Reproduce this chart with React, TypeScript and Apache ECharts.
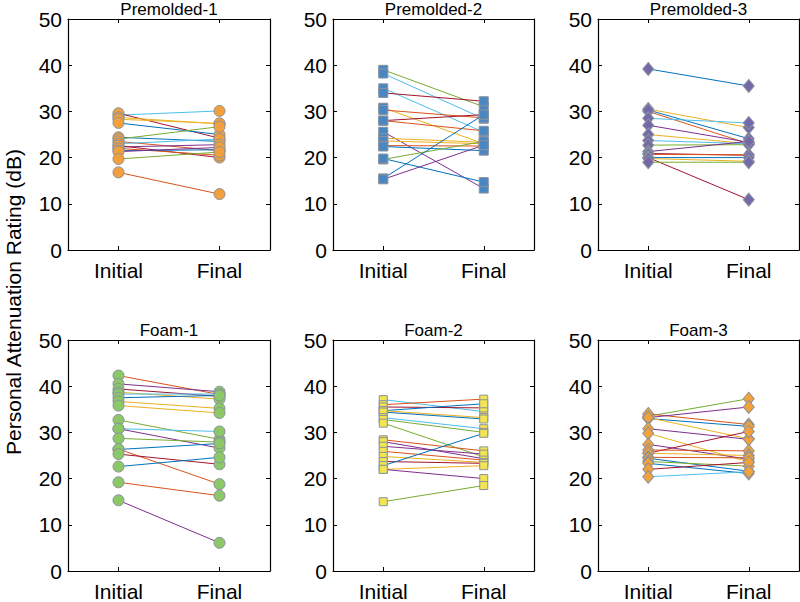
import React, { useEffect, useRef } from "react";
import * as echarts from "echarts";

const categories = ["Initial", "Final"];
const panelTitles = ["Premolded-1", "Premolded-2", "Premolded-3", "Foam-1", "Foam-2", "Foam-3"];
const yAxisTitle = "Personal Attenuation Rating (dB)";

// MATLAB default line colour order
const lineColors = ["#0072BD", "#D95319", "#EDB120", "#7E2F8E", "#77AC30", "#4DBEEE", "#A2142F"];

const premolded1Initial = [29.2, 29.6, 28.7, 28.3, 27.5, 24.4, 24.0, 23.5, 23.0, 22.3, 22.6, 22.0, 21.5, 21.3, 19.7, 16.8];
const premolded1Final = [30.1, 24.2, 27.3, 27.4, 25.0, 23.5, 26.7, 21.5, 24.0, 22.8, 20.0, 20.5, 21.7, 22.2, 21.2, 12.1];
const premolded1Colors = [5, 6, 2, 2, 0, 0, 4, 1, 5, 3, 6, 1, 0, 3, 4, 1];

const premolded2Initial = [39.0, 38.2, 35.0, 34.0, 30.8, 30.3, 28.0, 28.0, 25.6, 24.2, 23.6, 22.6, 22.4, 19.6, 19.8, 15.5, 15.3];
const premolded2Final = [31.0, 28.4, 25.5, 32.2, 23.0, 28.6, 29.3, 25.8, 13.3, 23.3, 23.0, 22.5, 21.5, 23.5, 14.7, 29.3, 22.7];
const premolded2Colors = [4, 5, 5, 6, 2, 1, 6, 1, 3, 2, 2, 1, 0, 4, 0, 0, 3];

const premolded3Initial = [39.2, 30.5, 30.0, 30.3, 28.5, 27.0, 25.0, 23.7, 22.7, 21.3, 20.9, 20.7, 20.0, 20.0, 19.8, 19.0];
const premolded3Final = [35.5, 26.5, 23.0, 24.1, 27.5, 23.3, 23.0, 23.0, 22.8, 23.5, 20.5, 20.6, 20.0, 10.9, 19.2, 19.0];
const premolded3Colors = [0, 2, 1, 0, 5, 3, 2, 5, 4, 3, 6, 1, 0, 6, 2, 4];

const foam1Initial = [42.3, 40.5, 39.4, 38.7, 38.3, 37.5, 36.7, 35.8, 32.7, 30.8, 30.8, 28.7, 26.3, 26.4, 25.3, 22.6, 19.2, 15.3];
const foam1Final = [38.2, 38.8, 37.8, 37.2, 38.3, 38.0, 35.2, 34.2, 28.5, 30.2, 26.6, 27.9, 27.6, 18.8, 23.1, 24.6, 16.3, 6.1];
const foam1Colors = [1, 3, 6, 2, 5, 0, 2, 2, 4, 5, 3, 4, 0, 1, 6, 0, 1, 3];

const foam2Initial = [37.1, 36.0, 35.5, 34.7, 34.7, 34.4, 33.2, 32.8, 32.0, 28.4, 28.0, 27.0, 25.9, 24.8, 23.7, 22.8, 22.0, 22.0, 15.0];
const foam2Final = [34.5, 37.2, 35.3, 36.2, 33.2, 32.9, 30.8, 30.0, 24.7, 26.0, 24.3, 25.3, 24.0, 23.5, 23.3, 29.8, 22.8, 20.0, 18.5];
const foam2Colors = [5, 1, 6, 0, 2, 0, 5, 4, 4, 1, 3, 3, 1, 2, 6, 0, 2, 3, 4];

const foam3Initial = [33.5, 34.0, 33.2, 33.0, 33.2, 30.8, 29.8, 27.4, 25.5, 26.2, 25.5, 24.6, 24.4, 23.7, 23.3, 22.0, 20.4];
const foam3Final = [37.3, 31.7, 35.5, 31.3, 28.6, 28.5, 23.6, 24.2, 30.2, 26.0, 25.0, 24.5, 21.6, 22.7, 21.1, 23.5, 21.5];
const foam3Colors = [4, 1, 3, 0, 2, 3, 2, 3, 6, 1, 2, 1, 0, 4, 0, 6, 5];

const panelInitial = [premolded1Initial, premolded2Initial, premolded3Initial, foam1Initial, foam2Initial, foam3Initial];
const panelFinal = [premolded1Final, premolded2Final, premolded3Final, foam1Final, foam2Final, foam3Final];
const panelColors = [premolded1Colors, premolded2Colors, premolded3Colors, foam1Colors, foam2Colors, foam3Colors];

const markerSymbols = ["circle", "rect", "diamond", "circle", "rect", "diamond"];
const markerSizes: any[] = [11, 9, [11, 13], 11, 8, [11, 13]];
const markerFills = ["#F2A03D", "#4A87C0", "#7469A8", "#8CC867", "#F3E54F", "#F3A13A"];

const FONT = "'Liberation Sans', Arial, Helvetica, sans-serif";
const colLeft = [68, 333, 598];
const colWidth = [202, 201, 201];
const rowTop = [19, 340];
const rowHeight = [231, 233];

export default function App() {
  const ref = useRef<HTMLDivElement>(null);
  useEffect(() => {
    document.body.style.margin = "0";
    document.body.style.overflow = "hidden";
    const chart = echarts.init(ref.current!, null, { renderer: "svg" });
    const grids: any[] = [];
    const xAxes: any[] = [];
    const yAxes: any[] = [];
    const series: any[] = [];
    const graphics: any[] = [];
    for (let p = 0; p < 6; p++) {
      const r = Math.floor(p / 3);
      const c = p % 3;
      grids.push({ left: colLeft[c], top: rowTop[r], width: colWidth[c], height: rowHeight[r] });
      const tick = { show: true, inside: true, length: 4, alignWithLabel: true, lineStyle: { color: "#000", width: 1 } };
      const line = { show: true, onZero: false, lineStyle: { color: "#000", width: 1.2 } };
      xAxes.push({
        type: "category", gridIndex: p, data: categories, boundaryGap: true, position: "bottom",
        axisTick: tick, axisLine: line,
        axisLabel: { fontSize: 21, color: "#000", margin: 10, fontFamily: FONT },
        splitLine: { show: false },
      });
      xAxes.push({
        type: "category", gridIndex: p, data: categories, boundaryGap: true, position: "top",
        axisTick: tick, axisLine: line, axisLabel: { show: false }, splitLine: { show: false },
      });
      yAxes.push({
        type: "value", gridIndex: p, min: 0, max: 50, interval: 10, position: "left",
        axisTick: { show: true, inside: true, length: 4, lineStyle: { color: "#000" } },
        axisLine: line,
        axisLabel: { fontSize: 21, color: "#000", margin: 6, fontFamily: FONT },
        splitLine: { show: false },
      });
      yAxes.push({
        type: "value", gridIndex: p, min: 0, max: 50, interval: 10, position: "right",
        axisTick: { show: true, inside: true, length: 4, lineStyle: { color: "#000" } },
        axisLine: line, axisLabel: { show: false }, splitLine: { show: false },
      });
      const ini = panelInitial[p];
      const fin = panelFinal[p];
      const cols = panelColors[p];
      const pts: any[] = [];
      for (let i = 0; i < ini.length; i++) {
        series.push({
          type: "line", xAxisIndex: p * 2, yAxisIndex: p * 2,
          data: [ini[i], fin[i]], symbol: "none", showSymbol: false, z: 2,
          lineStyle: { width: 1, color: lineColors[cols[i]] }, silent: true,
        });
        pts.push([0, ini[i]]);
        pts.push([1, fin[i]]);
      }
      series.push({
        type: "scatter", xAxisIndex: p * 2, yAxisIndex: p * 2, data: pts, z: 3,
        symbol: markerSymbols[p], symbolSize: markerSizes[p],
        itemStyle: { color: markerFills[p], borderColor: "#8A929E", borderWidth: 1, opacity: 1 },
      });
      graphics.push({
        type: "text", x: colLeft[c] + colWidth[c] / 2, y: rowTop[r] - 1,
        style: {
          text: panelTitles[p], fill: "#000", fontSize: 17, fontFamily: FONT,
          textAlign: "center", align: "center", textVerticalAlign: "bottom", verticalAlign: "bottom",
        },
      });
    }
    graphics.push({
      type: "text", x: 13, y: 302, rotation: Math.PI / 2,
      style: {
        text: yAxisTitle, fill: "#000", fontSize: 21, fontFamily: FONT,
        textAlign: "center", align: "center", textVerticalAlign: "middle", verticalAlign: "middle",
      },
    });
    chart.setOption({
      animation: false,
      backgroundColor: "#fff",
      grid: grids,
      xAxis: xAxes,
      yAxis: yAxes,
      series,
      graphic: graphics,
    });
    return () => chart.dispose();
  }, []);
  return <div ref={ref} style={{ position: "absolute", left: 0, top: 0, width: 800, height: 602 }} />;
}
